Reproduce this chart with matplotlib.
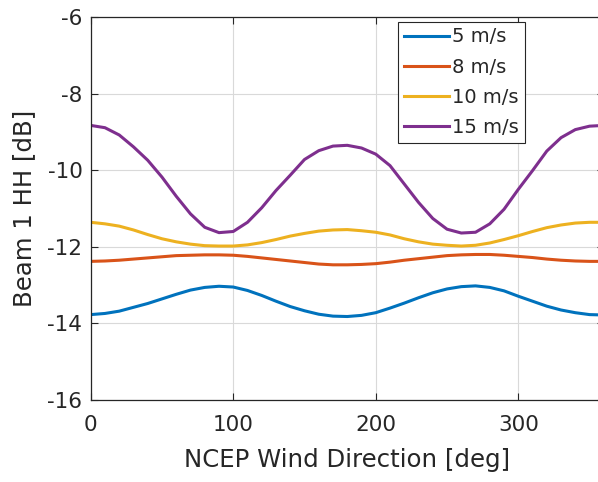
import matplotlib
matplotlib.use("Agg")
import matplotlib.pyplot as plt
import numpy as np

# wind direction samples [deg] and backscatter [dB]
direction = list(range(0, 361, 10))

beam_5 = [-13.77, -13.74, -13.68, -13.58, -13.48, -13.36, -13.24, -13.13, -13.06, -13.03,
          -13.05, -13.14, -13.27, -13.42, -13.56, -13.67, -13.76, -13.81, -13.82,
          -13.79, -13.72, -13.60, -13.47, -13.33, -13.20, -13.10, -13.04, -13.02,
          -13.06, -13.15, -13.29, -13.42, -13.55, -13.65, -13.72, -13.77, -13.78]

beam_8 = [-12.38, -12.37, -12.35, -12.32, -12.29, -12.26, -12.23, -12.22, -12.21, -12.21,
          -12.22, -12.25, -12.29, -12.33, -12.37, -12.41, -12.45, -12.47, -12.47,
          -12.46, -12.44, -12.40, -12.35, -12.31, -12.27, -12.23, -12.21, -12.20,
          -12.20, -12.22, -12.25, -12.28, -12.32, -12.35, -12.37, -12.38, -12.38]

beam_10 = [-11.36, -11.40, -11.46, -11.56, -11.68, -11.79, -11.87, -11.93, -11.97, -11.98,
           -11.98, -11.95, -11.89, -11.81, -11.72, -11.65, -11.59, -11.56, -11.55,
           -11.58, -11.62, -11.69, -11.79, -11.87, -11.93, -11.96, -11.98, -11.96,
           -11.90, -11.81, -11.71, -11.60, -11.50, -11.43, -11.38, -11.36, -11.36]

beam_15 = [-8.83, -8.89, -9.08, -9.39, -9.74, -10.18, -10.68, -11.14, -11.49, -11.63,
           -11.60, -11.36, -10.98, -10.53, -10.13, -9.72, -9.49, -9.37, -9.35,
           -9.42, -9.58, -9.88, -10.36, -10.84, -11.26, -11.54, -11.64, -11.62,
           -11.40, -11.02, -10.50, -10.01, -9.50, -9.15, -8.94, -8.85, -8.83]

labels = ["5 m/s", "8 m/s", "10 m/s", "15 m/s"]
colors = ["#0072BD", "#D95319", "#EDB120", "#7E2F8E"]

plt.rcParams["font.family"] = ["DejaVu Sans"]
plt.rcParams["axes.unicode_minus"] = False
ink = "#262626"

fig = plt.figure(figsize=(5.98, 4.82), dpi=100)
# axes run past the right edge, like the cropped original
ax = fig.add_axes([0.1517, 0.1701, 0.858, 0.7946])

for y, lab, c in zip([beam_5, beam_8, beam_10, beam_15], labels, colors):
    ax.plot(direction, y, color=c, lw=2.2, label=lab)

ax.set_xlim(0, 360)
ax.set_ylim(-16, -6)
ax.set_xticks([0, 100, 200, 300])
ax.set_yticks([-16, -14, -12, -10, -8, -6])
ax.grid(True, color="#d9d9d9", lw=0.8)
ax.tick_params(direction="in", length=5, top=True, right=True, colors=ink,
               labelsize=15.5)
ax.tick_params(axis="x", pad=11)
ax.tick_params(axis="y", pad=6)
for s in ax.spines.values():
    s.set_color(ink)
    s.set_linewidth(0.9)

ax.set_xlabel("NCEP Wind Direction [deg]", fontsize=17.6, color=ink, labelpad=9)
ax.set_ylabel("Beam 1 HH [dB]", fontsize=17.6, color=ink, labelpad=8)

leg = ax.legend(loc="upper left", bbox_to_anchor=(0.599, 0.988), fontsize=14,
                frameon=True, fancybox=False, edgecolor=ink, framealpha=1,
                handlelength=2.3, handletextpad=0.2, labelspacing=0.58,
                borderpad=0.3, borderaxespad=0)
leg.get_frame().set_linewidth(0.8)
for t in leg.get_texts():
    t.set_color(ink)

fig.savefig("out.png", dpi=100)
